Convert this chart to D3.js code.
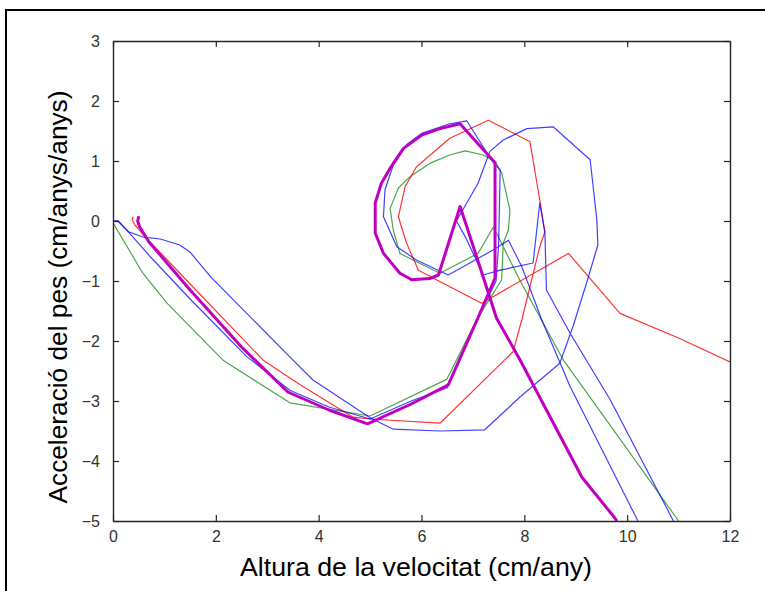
<!DOCTYPE html>
<html>
<head>
<meta charset="utf-8">
<script src="https://cdn.jsdelivr.net/npm/d3@7"></script>
<style>
  html, body { margin: 0; padding: 0; background: #fff; }
  svg { display: block; }
</style>
</head>
<body>
<svg id="chart" width="765" height="591"></svg>
<script>
// Axis ticks
const xTicks = [0, 2, 4, 6, 8, 10, 12];
const yTicks = [-5, -4, -3, -2, -1, 0, 1, 2, 3];

// Phase trajectories: growth velocity (x) vs. weight acceleration (y)
const greenX = [0, 0.58, 1.05, 2.14, 3.44, 5.0, 6.49, 7.07, 7.4, 7.56, 7.59, 7.69, 7.72, 7.56, 7.43, 7.2, 6.85, 6.55, 6.16, 5.78, 5.55, 5.39, 5.45, 5.58, 5.95, 6.36, 7.1, 7.4, 7.59, 7.92, 8.76, 9.9, 11.0];
const greenY = [-0.03, -0.87, -1.37, -2.32, -3.03, -3.25, -2.64, -1.65, -1.2, -0.98, -0.37, -0.15, 0.18, 0.8, 0.99, 1.1, 1.17, 1.1, 0.96, 0.74, 0.55, 0.21, -0.15, -0.54, -0.7, -0.87, -0.54, -0.1, -0.43, -1.0, -2.32, -3.68, -5.0];

const redX = [0.39, 0.37, 0.43, 0.59, 1.5, 2.92, 3.64, 4.67, 5.0, 6.36, 7.78, 7.95, 8.3, 8.4, 8.3, 8.11, 7.3, 6.55, 5.9, 5.68, 5.55, 5.71, 5.94, 6.29, 7.17, 8.86, 9.86, 11.0, 12.0];
const redY = [0.07, 0.02, -0.07, -0.23, -1.05, -2.32, -2.73, -3.27, -3.3, -3.37, -2.18, -1.65, -0.43, -0.18, 0.35, 1.32, 1.68, 1.38, 0.9, 0.57, 0.07, -0.37, -0.82, -0.98, -1.37, -0.54, -1.54, -1.95, -2.35];

const blueAX = [0, 0.1, 0.3, 0.6, 0.92, 1.3, 1.5, 1.9, 3.5, 3.89, 5.0, 5.45, 6.36, 7.23, 7.92, 8.69, 8.95, 9.24, 9.43, 9.41, 9.28, 8.56, 8.05, 7.59, 7.33, 7.1, 6.68, 6.85, 7.2, 7.53, 8.17, 8.3, 8.4, 8.43, 8.89, 9.67, 10.9];
const blueAY = [0, 0, -0.18, -0.27, -0.3, -0.4, -0.52, -0.93, -2.32, -2.65, -3.28, -3.47, -3.5, -3.48, -2.93, -2.37, -1.75, -0.95, -0.4, 0.02, 1.02, 1.57, 1.54, 1.35, 1.16, 0.63, 0.0, -0.26, -0.9, -0.82, -0.7, 0.3, -0.2, -1.15, -1.87, -2.98, -5.0];

const blueBX = [0, 0.1, 0.3, 0.73, 1.5, 2.6, 3.44, 4.2, 5.0, 5.8, 6.5, 7.08, 7.45, 7.5, 7.53, 7.39, 6.88, 6.55, 6.0, 5.71, 5.45, 5.29, 5.26, 5.52, 5.9, 6.52, 7.4, 7.69, 7.95, 8.34, 8.89, 10.21];
const blueBY = [0, 0, -0.18, -0.6, -1.3, -2.26, -2.82, -3.1, -3.3, -3.0, -2.78, -1.65, -1.0, -0.4, 0.85, 0.98, 1.67, 1.62, 1.46, 1.27, 0.93, 0.52, 0.07, -0.43, -0.65, -0.9, -0.48, -0.32, -0.76, -1.65, -2.76, -5.0];

const magentaX = [0.5, 0.48, 0.52, 0.7, 1.5, 2.5, 3.4, 4.2, 4.95, 5.8, 6.52, 7.08, 7.43, 7.43, 7.43, 6.75, 6.36, 6.0, 5.65, 5.39, 5.22, 5.1, 5.1, 5.26, 5.58, 5.81, 6.16, 6.33, 6.75, 6.88, 7.46, 7.92, 9.12, 9.76, 9.8];
const magentaY = [0.08, 0.0, -0.1, -0.35, -1.15, -2.1, -2.85, -3.15, -3.38, -3.05, -2.73, -1.65, -0.95, 0.0, 0.97, 1.62, 1.54, 1.43, 1.21, 0.88, 0.63, 0.3, -0.2, -0.54, -0.87, -0.98, -0.96, -0.9, 0.24, -0.09, -1.62, -2.32, -4.27, -4.95, -5.0];

const series = [
  { xs: greenX, ys: greenY, color: "#1f8f1f", width: 1.2, opacity: 0.8 },
  { xs: redX, ys: redY, color: "#ff0000", width: 1.2, opacity: 0.8 },
  { xs: blueAX, ys: blueAY, color: "#0000ff", width: 1.2, opacity: 0.75 },
  { xs: blueBX, ys: blueBY, color: "#0000ff", width: 1.2, opacity: 0.75 },
  { xs: magentaX, ys: magentaY, color: "#bf00bf", width: 3, opacity: 1 }
];

const svg = d3.select("#chart");
const plot = { left: 113, right: 730, top: 41, bottom: 521 };

const x = d3.scaleLinear().domain([0, 12]).range([plot.left, plot.right]);
const y = d3.scaleLinear().domain([-5, 3]).range([plot.bottom, plot.top]);

// Outer figure frame (top and left edges)
svg.append("line").attr("x1", 5).attr("x2", 765).attr("y1", 10).attr("y2", 10)
  .attr("stroke", "#000").attr("stroke-width", 2);
svg.append("line").attr("x1", 6).attr("x2", 6).attr("y1", 9).attr("y2", 591)
  .attr("stroke", "#000").attr("stroke-width", 2);

// Clip for the data lines
svg.append("clipPath").attr("id", "plotclip")
  .append("rect").attr("x", plot.left).attr("y", plot.top)
  .attr("width", plot.right - plot.left).attr("height", plot.bottom - plot.top);

const line = d3.line().x(d => x(d[0])).y(d => y(d[1]));
const lines = svg.append("g").attr("clip-path", "url(#plotclip)");
series.forEach(s => {
  lines.append("path")
    .attr("d", line(s.xs.map((v, i) => [v, s.ys[i]])))
    .attr("fill", "none")
    .attr("stroke", s.color)
    .attr("stroke-width", s.width)
    .attr("stroke-linejoin", "round")
    .attr("stroke-opacity", s.opacity);
});

// Axes with inward ticks on all four sides
const tickLen = 6;
const axisColor = "#262626";
const fmt = d3.format("d");

const bottomAxis = d3.axisBottom(x).tickValues(xTicks).tickFormat(fmt).tickSizeInner(-tickLen).tickSizeOuter(0).tickPadding(10);
const topAxis = d3.axisTop(x).tickValues(xTicks).tickFormat("").tickSizeInner(-tickLen).tickSizeOuter(0);
const leftAxis = d3.axisLeft(y).tickValues(yTicks).tickFormat(fmt).tickSizeInner(-tickLen).tickSizeOuter(0).tickPadding(13);
const rightAxis = d3.axisRight(y).tickValues(yTicks).tickFormat("").tickSizeInner(-tickLen).tickSizeOuter(0);

function style(g) {
  g.selectAll(".domain").attr("stroke", axisColor).attr("stroke-width", 1.4);
  g.selectAll(".tick line").attr("stroke", axisColor).attr("stroke-width", 1.2);
  g.selectAll(".tick text").attr("fill", "#333").attr("font-family", "Liberation Sans, Arial, sans-serif").attr("font-size", 16);
}

svg.append("g").attr("transform", `translate(0,${plot.bottom})`).call(bottomAxis).call(style);
svg.append("g").attr("transform", `translate(0,${plot.top})`).call(topAxis).call(style);
svg.append("g").attr("transform", `translate(${plot.left},0)`).call(leftAxis).call(style);
svg.append("g").attr("transform", `translate(${plot.right},0)`).call(rightAxis).call(style);

// Axis titles
svg.append("text")
  .attr("x", 416).attr("y", 576)
  .attr("text-anchor", "middle")
  .attr("font-family", "Liberation Sans, Arial, sans-serif")
  .attr("font-size", 25)
  .attr("textLength", 352)
  .attr("lengthAdjust", "spacingAndGlyphs")
  .attr("fill", "#000")
  .text("Altura de la velocitat (cm/any)");

svg.append("text")
  .attr("transform", "translate(67,297) rotate(-90)")
  .attr("text-anchor", "middle")
  .attr("font-family", "Liberation Sans, Arial, sans-serif")
  .attr("font-size", 25)
  .attr("textLength", 413)
  .attr("lengthAdjust", "spacingAndGlyphs")
  .attr("fill", "#000")
  .text("Acceleració del pes (cm/anys/anys)");
</script>
</body>
</html>
